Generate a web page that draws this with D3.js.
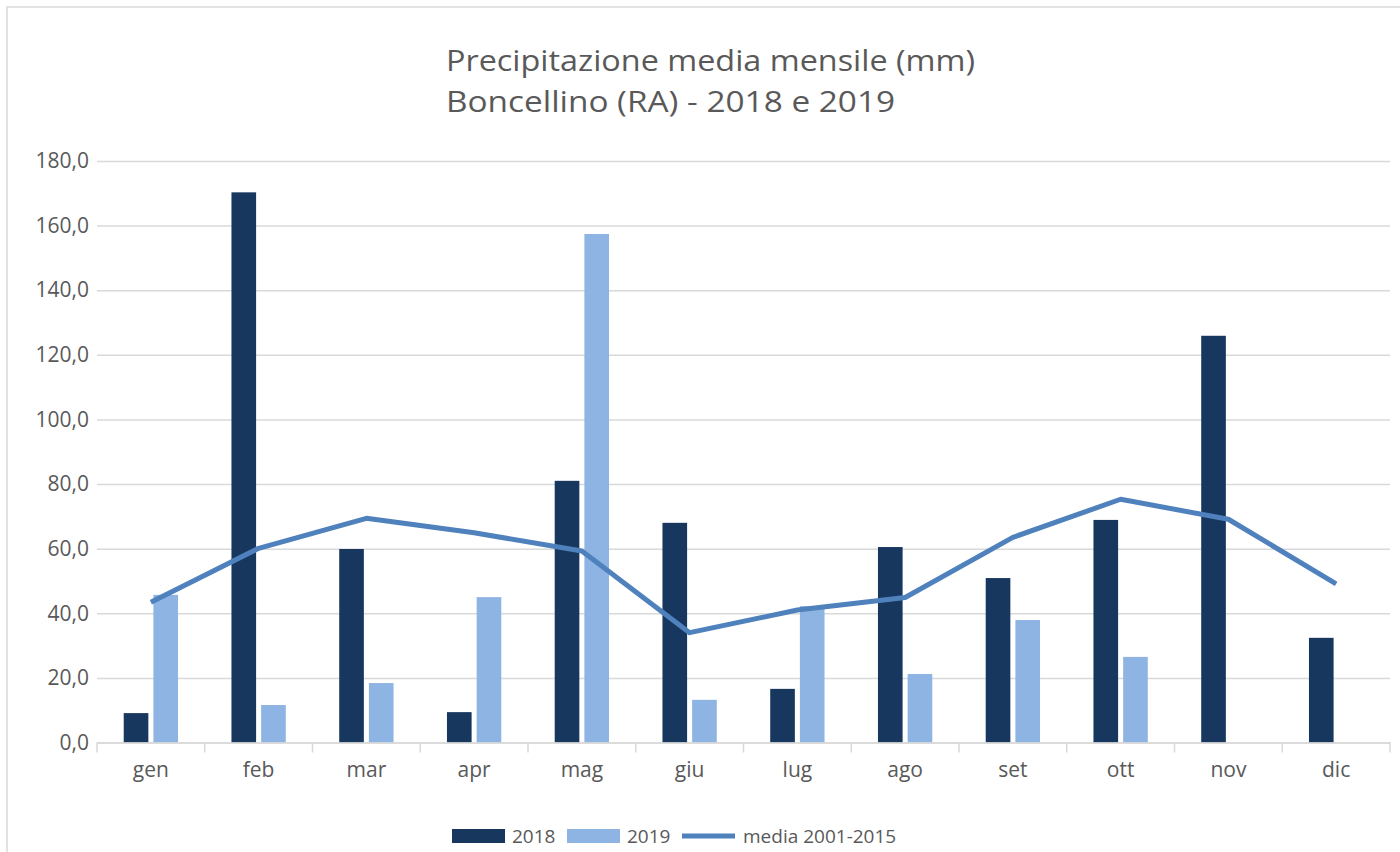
<!DOCTYPE html>
<html>
<head>
<meta charset="utf-8">
<script src="https://cdn.jsdelivr.net/npm/d3@7"></script>
<style>
  body { margin: 0; background: #fff; }
  text { font-family: "Open Sans", sans-serif; fill: #595959; }
</style>
</head>
<body>
<div id="d3-container"></div>
<script>
"use strict"

/**
 * DATA
 * */
const months = ["gen", "feb", "mar", "apr", "mag", "giu", "lug", "ago", "set", "ott", "nov", "dic"];
const values2018 = [9.1, 170.3, 59.9, 9.4, 81.0, 68.0, 16.6, 60.5, 50.9, 68.9, 125.9, 32.4];
const values2019 = [45.7, 11.6, 18.4, 45.0, 157.4, 13.2, 42.2, 21.2, 37.9, 26.5, null, null];
const media = [43.4, 60.1, 69.4, 64.9, 59.3, 34.0, 41.0, 44.9, 63.5, 75.3, 69.1, 49.1];
const yTicks = [0, 20, 40, 60, 80, 100, 120, 140, 160, 180];
const titleLines = ["Precipitazione media mensile (mm)", "Boncellino (RA) - 2018 e 2019"];

/**
 * CONSTANTS
 * */
const width = 1400,
  height = 852,
  margin = { top: 161, bottom: 110, left: 97, right: 10 };

const colors = { y2018: "#17375e", y2019: "#8eb4e3", media: "#4f81bd", grid: "#d9d9d9" };

const svg = d3.select("#d3-container")
  .append("svg")
  .attr("width", width)
  .attr("height", height);

// chart frame
svg.append("rect")
  .attr("x", 7)
  .attr("y", 7)
  .attr("width", 1410)
  .attr("height", 860)
  .attr("fill", "none")
  .attr("stroke", colors.grid)
  .attr("stroke-width", 1.5);

// title (two lines, left aligned on the same x)
const titleWidths = [529, 449];
svg.append("g")
  .selectAll("text")
  .data(titleLines)
  .join("text")
    .attr("x", 446)
    .attr("y", (d, i) => 71 + i * 41)
    .attr("textLength", (d, i) => titleWidths[i])
    .attr("lengthAdjust", "spacingAndGlyphs")
    .style("font-size", "30px")
    .text(d => d);

const x = d3.scaleBand()
  .domain(months)
  .range([margin.left, width - margin.right]);

const xInner = d3.scaleBand()
  .domain(["2018", "2019"])
  .range([0, x.bandwidth()])
  .paddingInner(0.17)
  .paddingOuter(0.9);

const y = d3.scaleLinear()
  .domain([0, 180])
  .range([height - margin.bottom + 0.5, margin.top]);

// gridlines + y labels
const yAxis = svg.append("g")
  .attr("transform", `translate(${margin.left},0)`)
  .call(d3.axisLeft(y)
    .tickValues(yTicks)
    .tickSize(-(width - margin.left - margin.right))
    .tickPadding(8)
    .tickFormat(d => d3.format(".1f")(d).replace(".", ",")));

yAxis.select(".domain").remove();
yAxis.selectAll(".tick line")
  .attr("stroke", colors.grid)
  .attr("stroke-width", 1.5);
yAxis.selectAll(".tick text")
  .style("font-size", "21px")
  .style("fill", "#595959");

// bars
const groups = svg.append("g")
  .selectAll("g")
  .data(months)
  .join("g")
    .attr("transform", d => `translate(${x(d)},0)`);

groups.append("rect")
  .attr("x", xInner("2018"))
  .attr("width", xInner.bandwidth())
  .attr("y", (d, i) => y(values2018[i]))
  .attr("height", (d, i) => y(0) - y(values2018[i]))
  .attr("fill", colors.y2018);

groups.filter((d, i) => values2019[i] != null)
  .append("rect")
  .attr("x", xInner("2019"))
  .attr("width", xInner.bandwidth())
  .attr("y", d => y(values2019[months.indexOf(d)]))
  .attr("height", d => y(0) - y(values2019[months.indexOf(d)]))
  .attr("fill", colors.y2019);

// x axis
const xAxis = svg.append("g")
  .attr("transform", `translate(0,${y(0)})`)
  .call(d3.axisBottom(x).tickSize(0).tickPadding(20));

xAxis.select(".domain")
  .attr("stroke", colors.grid)
  .attr("stroke-width", 1.5);
xAxis.selectAll(".tick text")
  .style("font-size", "21px")
  .style("fill", "#595959");

// tick marks at category boundaries
svg.append("g")
  .selectAll("line")
  .data(months.concat(["end"]))
  .join("line")
    .attr("x1", (d, i) => i < months.length ? x(d) : x(months[months.length - 1]) + x.bandwidth())
    .attr("x2", (d, i) => i < months.length ? x(d) : x(months[months.length - 1]) + x.bandwidth())
    .attr("y1", y(0))
    .attr("y2", y(0) + 10)
    .attr("stroke", colors.grid)
    .attr("stroke-width", 1.5);

// media line
const line = d3.line()
  .x((d, i) => x(months[i]) + x.bandwidth() / 2)
  .y(d => y(d));

svg.append("path")
  .datum(media)
  .attr("d", line)
  .attr("fill", "none")
  .attr("stroke", colors.media)
  .attr("stroke-width", 5)
  .attr("stroke-linejoin", "round");

// legend
const legendY = 836;
const legend = svg.append("g");

legend.append("rect").attr("x", 452).attr("y", legendY - 7).attr("width", 53).attr("height", 14).attr("fill", colors.y2018);
legend.append("text").attr("x", 512).attr("y", legendY + 7).style("font-size", "19px").text("2018");
legend.append("rect").attr("x", 567).attr("y", legendY - 7).attr("width", 53).attr("height", 14).attr("fill", colors.y2019);
legend.append("text").attr("x", 627).attr("y", legendY + 7).style("font-size", "19px").text("2019");
legend.append("line").attr("x1", 682).attr("x2", 735).attr("y1", legendY).attr("y2", legendY)
  .attr("stroke", colors.media).attr("stroke-width", 5);
legend.append("text").attr("x", 743).attr("y", legendY + 7).style("font-size", "19px").text("media 2001-2015");
</script>
</body>
</html>
